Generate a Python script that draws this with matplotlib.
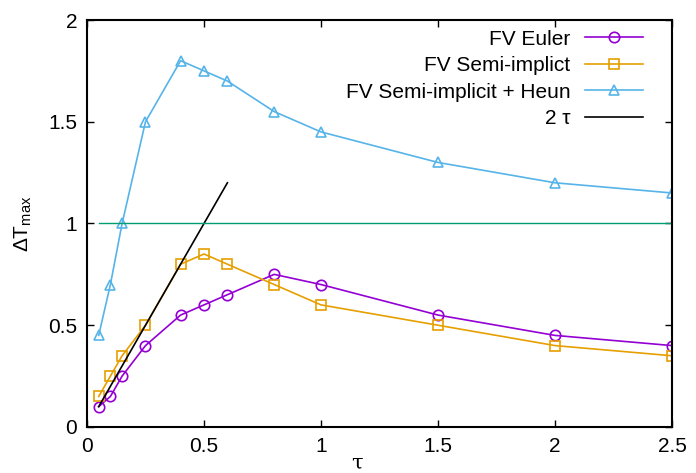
import matplotlib
matplotlib.use('Agg')
import matplotlib.pyplot as plt

plt.rcParams['font.family'] = ['Liberation Sans', 'DejaVu Sans']
plt.rcParams['mathtext.fontset'] = 'custom'
plt.rcParams['mathtext.rm'] = 'Liberation Sans'
plt.rcParams['mathtext.it'] = 'Liberation Sans'

# data
tau = [0.05, 0.1, 0.15, 0.25, 0.4, 0.5, 0.6, 0.8, 1.0, 1.5, 2.0, 2.5]
euler = [0.1, 0.15, 0.25, 0.4, 0.55, 0.6, 0.65, 0.75, 0.7, 0.55, 0.45, 0.4]
semi = [0.15, 0.25, 0.35, 0.5, 0.8, 0.85, 0.8, 0.7, 0.6, 0.5, 0.4, 0.35]
heun = [0.45, 0.7, 1.0, 1.5, 1.8, 1.75, 1.7, 1.55, 1.45, 1.3, 1.2, 1.15]
ref_tau = [0.05, 0.6]
ref_line = [2 * t for t in ref_tau]
level_tau = [0.05, 2.5]
level = [1.0, 1.0]

FS = 15

fig = plt.figure(figsize=(6.96, 4.73), dpi=100)
ax = fig.add_axes([0.125, 0.0973, 0.8405, 0.8604])

ax.plot(tau, euler, color='#9400d3', marker='o', markersize=7.5, mfc='none',
        mew=1.2, linewidth=1.2, label='FV Euler')
ax.plot(tau, semi, color='#e69f00', marker='s', markersize=7.5, mfc='none',
        mew=1.2, linewidth=1.2, label='FV Semi-implict')
ax.plot(tau, heun, color='#56b4e9', marker='^', markersize=7.5, mfc='none',
        mew=1.2, linewidth=1.2, label='FV Semi-implicit + Heun')
ax.plot(ref_tau, ref_line, color='black', linewidth=1.2, label='2 τ')
ax.plot(level_tau, level, color='#009e73', linewidth=1.0)

ax.set_xlim(0, 2.5)
ax.set_ylim(0, 2)
ax.set_xticks([0, 0.5, 1, 1.5, 2, 2.5])
ax.set_xticklabels(['0', '0.5', '1', '1.5', '2', '2.5'])
ax.set_yticks([0, 0.5, 1, 1.5, 2])
ax.set_yticklabels(['0', '0.5', '1', '1.5', '2'])
ax.tick_params(direction='in', top=True, right=True, labelsize=FS, length=5,
               width=1.0, pad=7)
for s in ax.spines.values():
    s.set_linewidth(1.5)

# gnuplot puts the x label a bit left of centre
ax.set_xlabel('τ', fontsize=FS, family=['DejaVu Serif'])
ax.xaxis.set_label_coords(0.462, -0.066)
ax.set_ylabel(r'$\Delta$T$_{\mathrm{max}}$', fontsize=FS, labelpad=10)

ax.legend(loc='upper right', frameon=False, markerfirst=False, fontsize=FS,
          handlelength=2.8, labelspacing=0.36, borderaxespad=0.0,
          handletextpad=0.7, bbox_to_anchor=(0.965, 0.997))

plt.savefig('out.png', dpi=100)
